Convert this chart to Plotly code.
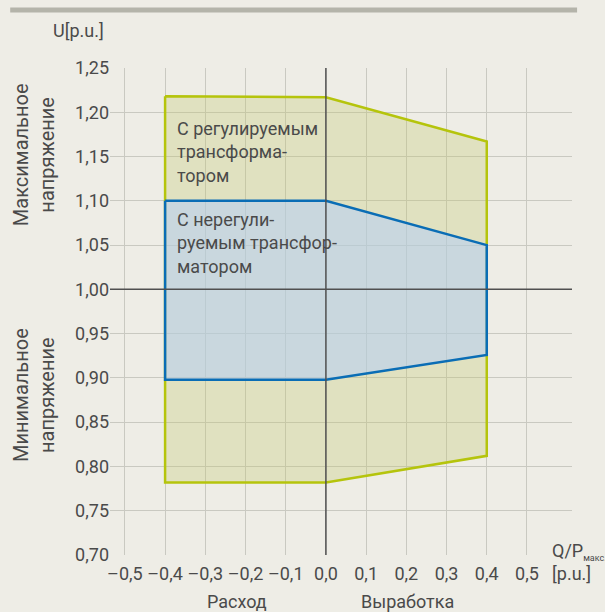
import plotly.graph_objects as go

# Data
q_reg = [-0.4, 0.0, 0.4, 0.4, 0.0, -0.4, -0.4]
u_reg = [1.218, 1.217, 1.167, 0.812, 0.782, 0.782, 1.218]
q_unreg = [-0.4, 0.0, 0.4, 0.4, 0.0, -0.4, -0.4]
u_unreg = [1.100, 1.100, 1.050, 0.926, 0.898, 0.898, 1.100]

x_ticks = [-0.5, -0.4, -0.3, -0.2, -0.1, 0.0, 0.1, 0.2, 0.3, 0.4, 0.5]
x_labels = ["–0,5", "–0,4", "–0,3", "–0,2", "–0,1", "0,0", "0,1", "0,2", "0,3", "0,4", "0,5"]
y_ticks = [0.70, 0.75, 0.80, 0.85, 0.90, 0.95, 1.00, 1.05, 1.10, 1.15, 1.20, 1.25]
y_labels = ["0,70", "0,75", "0,80", "0,85", "0,90", "0,95", "1,00", "1,05", "1,10", "1,15", "1,20", "1,25"]

BG = "#eeede6"
TXT = "#4a4a4a"
FONT = "Liberation Sans Narrow, Roboto, sans-serif"
FONT2 = "Roboto, sans-serif"

fig = go.Figure()
fig.add_trace(go.Scatter(x=q_reg, y=u_reg, mode="lines", fill="toself",
                         fillcolor="rgba(195,200,113,0.32)",
                         line=dict(color="#b5c40c", width=2.5), hoverinfo="skip"))
fig.add_trace(go.Scatter(x=q_unreg, y=u_unreg, mode="lines", fill="toself",
                         fillcolor="rgba(177,206,251,0.5)",
                         line=dict(color="#0a6db5", width=2.5), hoverinfo="skip"))

fig.update_layout(
    width=605, height=612,
    margin=dict(l=110, r=33, t=68, b=57),
    paper_bgcolor=BG, plot_bgcolor=BG,
    showlegend=False,
    font=dict(family=FONT, color=TXT, size=17),
    xaxis=dict(range=[-0.537, 0.612], tickvals=x_ticks, ticktext=x_labels,
               showgrid=True, gridcolor="#c9c9c1", gridwidth=1,
               zeroline=False, showline=False, ticks="", ticklen=0,
               ticklabelstandoff=6,
               tickfont=dict(size=18, family=FONT, color=TXT)),
    yaxis=dict(range=[0.70, 1.25], tickvals=y_ticks, ticktext=y_labels,
               showgrid=True, gridcolor="#c9c9c1", gridwidth=1,
               zeroline=False, showline=False, ticks="", ticklen=0,
               tickfont=dict(size=18, family=FONT, color=TXT)),
    shapes=[
        dict(type="line", xref="x", yref="paper", x0=0, x1=0, y0=0, y1=1,
             line=dict(color="#505050", width=1.5), layer="above"),
        dict(type="line", xref="paper", yref="y", x0=0, x1=1, y0=1.0, y1=1.0,
             line=dict(color="#505050", width=1.5), layer="above"),
        dict(type="line", xref="paper", yref="paper", x0=-0.216, x1=1.011,
             y0=1.119, y1=1.119, line=dict(color="#b4b4aa", width=5)),
    ],
)

annos = [
    dict(text="С регулируемым<br>трансформа-<br>тором", x=-0.375, y=1.196,
         xref="x", yref="y", xanchor="left", yanchor="top", align="left",
         font=dict(size=18, family=FONT2, color=TXT)),
    dict(text="С нерегули-<br>руемым трансфор-<br>матором", x=-0.375, y=1.093,
         xref="x", yref="y", xanchor="left", yanchor="top", align="left",
         font=dict(size=18, family=FONT2, color=TXT)),
    dict(text="Максимальное<br>напряжение", x=-0.1645, y=0.821, xref="paper", yref="paper",
         textangle=-90, xanchor="center", yanchor="middle", align="center",
         font=dict(size=20, family=FONT2, color=TXT)),
    dict(text="Минимальное<br>напряжение", x=-0.1645, y=0.3285, xref="paper", yref="paper",
         textangle=-90, xanchor="center", yanchor="middle", align="center",
         font=dict(size=20, family=FONT2, color=TXT)),
    dict(text="U[p.u.]", x=-0.069, y=1.078, xref="paper", yref="paper",
         xanchor="center", yanchor="middle", font=dict(size=18, family=FONT, color=TXT)),
    dict(text="Q/P<sub><span style='font-size:9px'>макс.</span></sub><br>[p.u.]",
         x=0.953, y=-0.014, xref="paper", yref="paper",
         xanchor="left", yanchor="middle", align="left", font=dict(size=18, family=FONT, color=TXT)),
    dict(text="Расход", x=0.275, y=-0.095, xref="paper", yref="paper",
         xanchor="center", yanchor="middle", font=dict(size=18, family=FONT, color=TXT)),
    dict(text="Выработка", x=0.645, y=-0.095, xref="paper", yref="paper",
         xanchor="center", yanchor="middle", font=dict(size=18, family=FONT, color=TXT)),
]
for a in annos:
    a["showarrow"] = False
    fig.add_annotation(**a)

fig.write_html("out.html", config={"displayModeBar": False},
               post_script="document.body.style.margin='0';document.body.style.background='#eeede6';document.body.style.overflow='hidden';")
